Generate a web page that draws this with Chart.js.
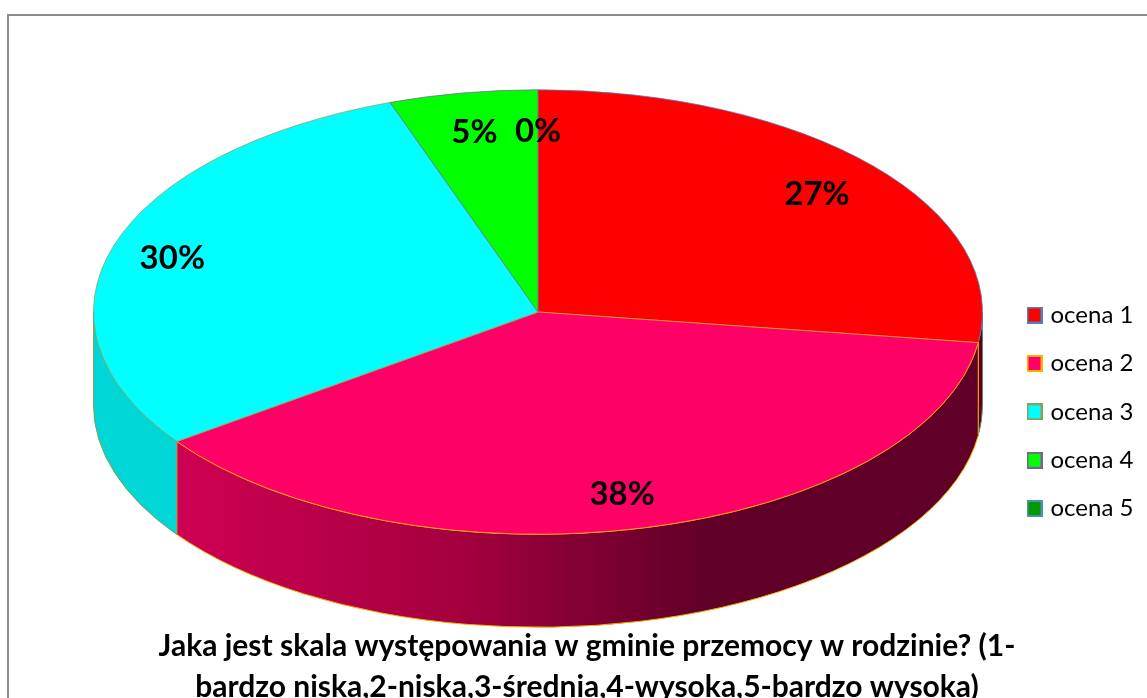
<!DOCTYPE html>
<html><head><meta charset="utf-8">
<style>html,body{margin:0;padding:0;background:#fff}canvas{display:block}</style>
<script src="https://cdn.jsdelivr.net/npm/chart.js@4"></script>
</head><body><canvas id="c" width="1147" height="698"></canvas>
<script>
const categories = ['ocena 1','ocena 2','ocena 3','ocena 4','ocena 5'];
const values = [27.2, 37.9, 29.5, 5.4, 0];
const fillColors = ['#FF0000','#FF0066','#00FFFF','#00FF00','#009900'];
const edgeColors = ['#4F81BD','#F9B000','#8A9F5A','#7A5FA0','#4F8FB0'];
const wallStops = [
  [[0,'#680000'],[1,'#680000']],
  [[0,'#CE0052'],[0.35,'#A5003F'],[0.66,'#600028'],[1,'#600028']],
  [[0,'#00D6D6'],[1,'#00D6D6']],
  [[0,'#00C000'],[1,'#00C000']],
  [[0,'#007000'],[1,'#007000']]
];
const titleLines = ['Jaka jest skala występowania w gminie przemocy w rodzinie? (1-','bardzo niska,2-niska,3-średnia,4-wysoka,5-bardzo wysoka)'];
const labelReachX = [0.832, 0.79, 0.8625, 0.847, 0.82];
const labelReachY = [0.807, 0.843, 0.806, 0.82, 0.815];
const FONT = 'Lato, Carlito, sans-serif';
const SQUASH = 0.5;
const DEPTH = 93;
const LEGEND_FONT = 24;
const LEGEND_GAP = 24.4;

function swatch(fill, edge){
  const s = document.createElement('canvas'); s.width = 16; s.height = 17;
  const c = s.getContext('2d');
  c.fillStyle = edge; c.fillRect(0,0,16,17);
  c.fillStyle = fill; c.fillRect(2,2,12,13);
  return s;
}

const frame = { id:'frame', beforeDraw(ch){
  const c = ch.ctx; c.save(); c.fillStyle='#fff'; c.fillRect(0,0,ch.width,ch.height);
  c.strokeStyle='#8C8C8C'; c.lineWidth=2; c.beginPath();
  c.moveTo(8,ch.height); c.lineTo(8,15); c.lineTo(ch.width,15); c.stroke(); c.restore();
}};

const placeBoxes = { id:'placeBoxes', afterLayout(ch){
  const t = ch.titleBlock; t.left = 14; t.right = 1160; t.width = t.right - t.left;
  t.top = 625; t.bottom = t.top + t.height;
  const l = ch.legend; l.left = 1030.5-LEGEND_GAP; l.right = 1300; l.width = l.right-l.left;
  l.top = 303-LEGEND_GAP; l.bottom = 698; l.height = l.bottom-l.top;
}};

const pie3d = { id:'pie3d',
  beforeDatasetsDraw(ch){
    const c = ch.ctx, arcs = ch.getDatasetMeta(0).data;
    const A0 = arcs[0], cx = A0.x, cy = A0.y, rx = A0.outerRadius, ry = rx*SQUASH;
    const TAU = Math.PI*2;
    [4,3,0,1,2].forEach(i=>{
      const e = arcs[i];
      for (const k of [0,1]) {
        const a = Math.max(e.startAngle, k*TAU), b = Math.min(e.endAngle, Math.PI + k*TAU);
        if (b <= a) continue;
        const g = c.createLinearGradient(cx+rx*Math.cos(b), 0, cx+rx*Math.cos(a), 0);
        wallStops[i].forEach(s=>g.addColorStop(s[0], s[1]));
        c.save(); c.beginPath();
        c.ellipse(cx,cy,rx,ry,0,a,b);
        c.ellipse(cx,cy+DEPTH,rx,ry,0,b,a,true);
        c.closePath(); c.fillStyle=g; c.fill();
        c.strokeStyle=edgeColors[i]; c.lineWidth=1; c.stroke(); c.restore();
      }
    });
    c.save();
    c.translate(cx,cy); c.scale(1,SQUASH); c.translate(-cx,-cy);
  },
  afterDatasetsDraw(ch){
    const c = ch.ctx; c.restore();
    const arcs = ch.getDatasetMeta(0).data;
    c.save(); c.font = 'bold 33px '+FONT; c.fillStyle='#000'; c.textAlign='center'; c.textBaseline='middle';
    arcs.forEach((e,i)=>{
      const m = (e.startAngle+e.endAngle)/2;
      c.fillText(Math.round(values[i])+'%', e.x+labelReachX[i]*e.outerRadius*Math.cos(m), e.y+labelReachY[i]*e.outerRadius*SQUASH*Math.sin(m));
    });
    c.restore();
  }
};

new Chart(document.getElementById('c'), {
  type:'pie',
  data:{ labels:categories, datasets:[{ data:values, backgroundColor:fillColors, borderColor:edgeColors, borderWidth:1, clip:false }]},
  plugins:[frame, placeBoxes, pie3d],
  options:{
    responsive:false, animation:false, radius:444.5,
    layout:{ padding:{ top:9.4, bottom:0, left:0, right:71 } },
    plugins:{
      tooltip:{enabled:false},
      title:{ display:true, position:'bottom', text:titleLines, color:'#000', padding:0,
        font:{ family:FONT, size:30, weight:'bold', lineHeight:1.39 } },
      legend:{ display:true, position:'chartArea', align:'start',
        labels:{ usePointStyle:true, pointStyleWidth:8, boxHeight:14, padding:LEGEND_GAP, color:'#000', font:{ family:FONT, size:LEGEND_FONT },
          generateLabels(ch){ return categories.map((t,i)=>({ text:t, fillStyle:fillColors[i], strokeStyle:edgeColors[i], pointStyle:swatch(fillColors[i],edgeColors[i]), lineWidth:0, index:i, hidden:false })); } } }
    }
  }
});
</script></body></html>
